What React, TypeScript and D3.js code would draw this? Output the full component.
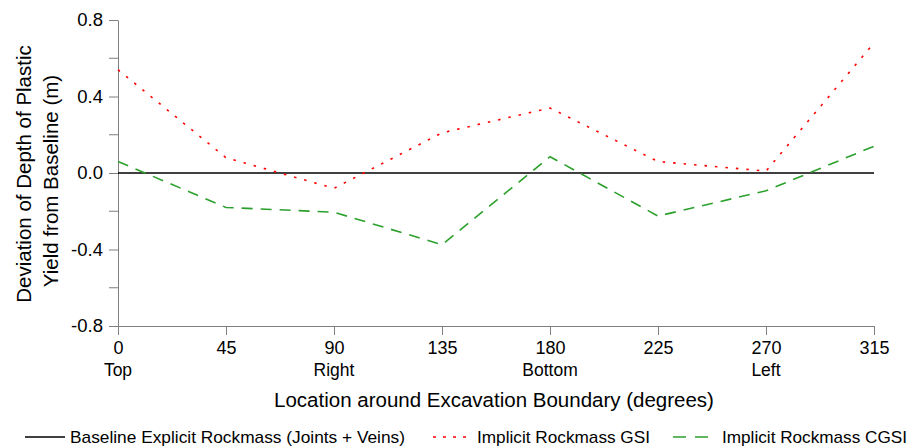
import React, { useEffect, useRef } from 'react';
import * as d3 from 'd3';

// location around the excavation boundary (degrees)
const angles = [0, 45, 90, 135, 180, 225, 270, 315];
const angleNames = ['Top', '', 'Right', '', 'Bottom', '', 'Left', ''];

// deviation of depth of plastic yield from baseline (m)
const baseline = [0, 0, 0, 0, 0, 0, 0, 0];
const gsi = [0.54, 0.08, -0.08, 0.21, 0.34, 0.06, 0.01, 0.68];
const cgsi = [0.06, -0.18, -0.205, -0.375, 0.085, -0.225, -0.093, 0.14];

const yTicks = [-0.8, -0.4, 0.0, 0.4, 0.8];
const yMinor = [-0.6, -0.2, 0.2, 0.6];

const legendItems = [
  { label: 'Baseline Explicit Rockmass (Joints + Veins)', color: '#000', dash: null },
  { label: 'Implicit Rockmass GSI', color: '#ff0000', dash: '3,7' },
  { label: 'Implicit Rockmass CGSI', color: '#2ca02c', dash: '13,9' },
];

export default function App() {
  const svgRef = useRef<SVGSVGElement>(null);

  useEffect(() => {
    const width = 917;
    const height = 448;
    const svg = d3.select(svgRef.current).attr('width', width).attr('height', height);
    svg.selectAll('*').remove();

    const font = 'Arial, "Liberation Sans", sans-serif';
    const axisColor = '#7f7f7f';

    const x = d3.scaleLinear().domain([0, 315]).range([118, 874]);
    const y = d3.scaleLinear().domain([-0.8, 0.8]).range([326, 20]);

    // Axes
    const xAxis = svg.append('g')
      .attr('transform', `translate(0,${y(-0.8)})`)
      .call(d3.axisBottom(x).tickValues(angles).tickSize(9).tickSizeOuter(0).tickFormat(d3.format('d')));
    xAxis.select('.domain').attr('stroke', axisColor);
    xAxis.selectAll('line').attr('stroke', axisColor);
    xAxis.selectAll('text')
      .attr('y', 15)
      .style('font-family', font)
      .style('font-size', '18px')
      .attr('fill', '#000');

    // location names under tick labels
    svg.append('g').selectAll('text')
      .data(angles.filter((_, i) => angleNames[i]))
      .join('text')
      .attr('x', d => x(d))
      .attr('y', 376)
      .attr('text-anchor', 'middle')
      .style('font-family', font)
      .style('font-size', '17.5px')
      .text(d => angleNames[angles.indexOf(d)]);

    const yAxis = svg.append('g')
      .attr('transform', `translate(${x(0)},0)`)
      .call(d3.axisLeft(y).tickValues(yTicks).tickSize(9).tickSizeOuter(0)
        .tickFormat(d => (+d).toFixed(1)));
    yAxis.select('.domain').attr('stroke', axisColor);
    yAxis.selectAll('line').attr('stroke', axisColor);
    yAxis.selectAll('text')
      .attr('x', -15)
      .style('font-family', font)
      .style('font-size', '18.5px')
      .attr('fill', '#000');

    svg.append('g').selectAll('line')
      .data(yMinor)
      .join('line')
      .attr('x1', x(0) - 9)
      .attr('x2', x(0))
      .attr('y1', d => y(d))
      .attr('y2', d => y(d))
      .attr('stroke', axisColor);

    // Axis titles
    svg.append('text')
      .attr('x', 494)
      .attr('y', 407)
      .attr('text-anchor', 'middle')
      .style('font-family', font)
      .style('font-size', '20.5px')
      .text('Location around Excavation Boundary (degrees)');

    svg.append('text')
      .attr('transform', 'translate(31,174) rotate(-90)')
      .attr('text-anchor', 'middle')
      .style('font-family', font)
      .style('font-size', '20.5px')
      .text('Deviation of Depth of Plastic');
    svg.append('text')
      .attr('transform', 'translate(58,181) rotate(-90)')
      .attr('text-anchor', 'middle')
      .style('font-family', font)
      .style('font-size', '20.5px')
      .text('Yield from Baseline (m)');

    // Lines
    const line = d3.line<number>()
      .x((_, i) => x(angles[i]))
      .y(d => y(d));

    svg.append('path')
      .datum(baseline)
      .attr('fill', 'none')
      .attr('stroke', '#000')
      .attr('stroke-width', 1.6)
      .attr('d', line);

    svg.append('path')
      .datum(gsi)
      .attr('fill', 'none')
      .attr('stroke', '#ff0000')
      .attr('stroke-width', 1.6)
      .attr('stroke-dasharray', '2.5,8')
      .attr('d', line);

    svg.append('path')
      .datum(cgsi)
      .attr('fill', 'none')
      .attr('stroke', '#2ca02c')
      .attr('stroke-width', 1.6)
      .attr('stroke-dasharray', '11,8')
      .attr('d', line);

    // Legend
    const legendPos = [
      { x1: 25, x2: 65, tx: 70, tw: 335 },
      { x1: 433, x2: 472, tx: 477, tw: 173 },
      { x1: 673, x2: 708, tx: 722, tw: 185 },
    ];
    const legend = svg.append('g').attr('transform', 'translate(0,437)');
    legendItems.forEach((item, i) => {
      const p = legendPos[i];
      legend.append('line')
        .attr('x1', p.x1).attr('x2', p.x2)
        .attr('y1', 0).attr('y2', 0)
        .attr('stroke', item.color)
        .attr('stroke-width', 1.6)
        .attr('stroke-dasharray', item.dash);
      legend.append('text')
        .attr('x', p.tx)
        .attr('y', 6)
        .attr('textLength', p.tw)
        .attr('lengthAdjust', 'spacingAndGlyphs')
        .style('font-family', font)
        .style('font-size', '17px')
        .text(item.label);
    });
  }, []);

  return (
    <div style={{ position: 'absolute', left: 0, top: 0, width: 917, height: 448, overflow: 'hidden', background: '#fff' }}>
      <svg ref={svgRef} style={{ display: 'block' }}></svg>
    </div>
  );
}
